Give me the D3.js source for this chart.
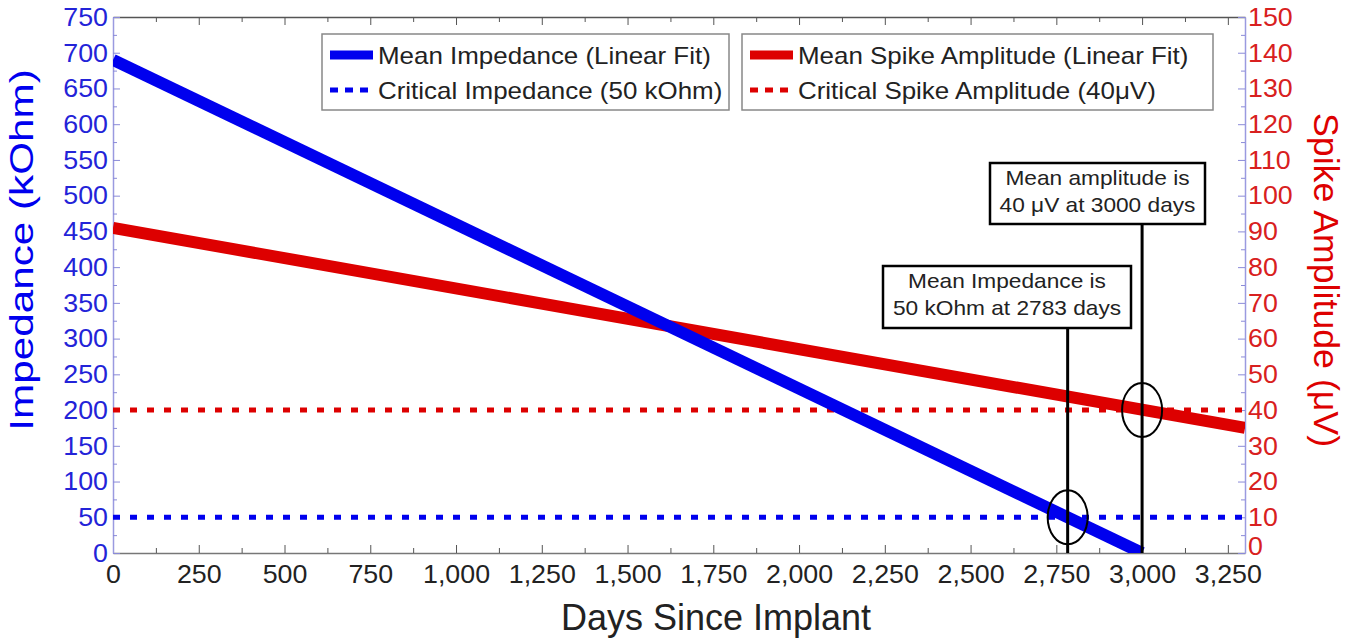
<!DOCTYPE html>
<html>
<head>
<meta charset="utf-8">
<script src="https://cdn.jsdelivr.net/npm/d3@7"></script>
<style>
  body { margin: 0; background: #fff; }
  svg { font-family: "Liberation Sans", Arial, Helvetica, sans-serif; }
</style>
</head>
<body>
<svg id="chart" width="1363" height="644"></svg>
<script>
// fitted lines
const impDays = [0, 3000];
const impValues = [690, 0];
const ampDays = [0, 3300];
const ampValues = [91, 35];
const criticalImpedance = 50;
const criticalAmplitude = 40;

const xTicks = [0, 250, 500, 750, 1000, 1250, 1500, 1750, 2000, 2250, 2500, 2750, 3000, 3250];
const leftTicks = [0, 50, 100, 150, 200, 250, 300, 350, 400, 450, 500, 550, 600, 650, 700, 750];
const rightTicks = [0, 10, 20, 30, 40, 50, 60, 70, 80, 90, 100, 110, 120, 130, 140, 150];

const notes = [
  { day: 2783, target: "imp", value: 50, lines: ["Mean Impedance is", "50 kOhm at 2783 days"] },
  { day: 3000, target: "amp", value: 40, lines: ["Mean amplitude is", "40 μV at 3000 days"] },
];

const svg = d3.select("#chart"),
  width = +svg.attr("width"),
  height = +svg.attr("height");
const margin = { top: 17, right: 118, bottom: 91, left: 113 };

const x = d3.scaleLinear().domain([0, 3300]).range([margin.left, width - margin.right]);
const yL = d3.scaleLinear().domain([0, 750]).range([height - margin.bottom, margin.top]);
const yR = d3.scaleLinear().domain([0, 150]).range([height - margin.bottom, margin.top]);

const BLUE = "#0000ee", RED = "#dd0000";
const x0 = margin.left, x1 = width - margin.right,
  yb = height - margin.bottom, yt = margin.top;

// the original font runs a bit wider than Liberation Sans
function stretch(sel, k) {
  sel.each(function () {
    const n = this.getComputedTextLength();
    d3.select(this).attr("textLength", n * k).attr("lengthAdjust", "spacingAndGlyphs");
  });
}

svg.append("clipPath").attr("id", "clip")
  .append("rect").attr("x", x0).attr("y", yt).attr("width", x1 - x0).attr("height", yb - yt);

// ---- axes ----
const fmt = d3.format(",");
const minorX = xTicks.map(d => d + 125).filter(d => d < 3300);

const bottomAxis = svg.append("g").attr("transform", `translate(0,${yb})`)
  .call(d3.axisBottom(x).tickValues(xTicks).tickFormat(fmt).tickSize(-8).tickSizeOuter(0).tickPadding(12));
bottomAxis.select(".domain").attr("stroke", "#777").attr("stroke-width", 1.5);
bottomAxis.selectAll(".tick line").attr("stroke", "#555");
bottomAxis.selectAll("text").attr("font-size", 26).attr("fill", "#222").call(stretch, 1.03);

const bottomMinor = svg.append("g").attr("transform", `translate(0,${yb})`)
  .call(d3.axisBottom(x).tickValues(minorX).tickFormat("").tickSize(-5).tickSizeOuter(0));
bottomMinor.select(".domain").remove();
bottomMinor.selectAll(".tick line").attr("stroke", "#555");

const topAxis = svg.append("g").attr("transform", `translate(0,${yt})`)
  .call(d3.axisTop(x).tickValues(xTicks).tickFormat("").tickSize(-8).tickSizeOuter(0));
topAxis.select(".domain").attr("stroke", "#555").attr("stroke-width", 1.5);
topAxis.selectAll(".tick line").attr("stroke", "#555");
const topMinor = svg.append("g").attr("transform", `translate(0,${yt})`)
  .call(d3.axisTop(x).tickValues(minorX).tickFormat("").tickSize(-5).tickSizeOuter(0));
topMinor.select(".domain").remove();
topMinor.selectAll(".tick line").attr("stroke", "#555");

const leftAxis = svg.append("g").attr("transform", `translate(${x0},0)`)
  .call(d3.axisLeft(yL).tickValues(leftTicks).tickSize(-7).tickSizeOuter(0).tickPadding(5));
leftAxis.select(".domain").attr("stroke", "#9a9ae0").attr("stroke-width", 1.5);
leftAxis.selectAll(".tick line").attr("stroke", "#8a8ad8");
leftAxis.selectAll("text").attr("font-size", 26).attr("fill", "#2323d8").call(stretch, 1.03);
const leftMinor = svg.append("g").attr("transform", `translate(${x0},0)`)
  .call(d3.axisLeft(yL).tickValues(leftTicks.slice(0, -1).map(d => d + 25)).tickFormat("").tickSize(-4).tickSizeOuter(0));
leftMinor.select(".domain").remove();
leftMinor.selectAll(".tick line").attr("stroke", "#8a8ad8");

const rightAxis = svg.append("g").attr("transform", `translate(${x1},0)`)
  .call(d3.axisRight(yR).tickValues(rightTicks).tickSize(-7).tickSizeOuter(0).tickPadding(3));
rightAxis.select(".domain").attr("stroke", "#9a9ae0").attr("stroke-width", 1.5);
rightAxis.selectAll(".tick line").attr("stroke", "#8a8ad8");
rightAxis.selectAll("text").attr("font-size", 26).attr("fill", "#d82020").call(stretch, 1.03);
// lift the bottom label clear of the x-axis labels
rightAxis.selectAll(".tick").filter(d => d === 0).select("text").attr("y", -7);
const rightMinor = svg.append("g").attr("transform", `translate(${x1},0)`)
  .call(d3.axisRight(yR).tickValues(rightTicks.slice(0, -1).map(d => d + 5)).tickFormat("").tickSize(-4).tickSizeOuter(0));
rightMinor.select(".domain").remove();
rightMinor.selectAll(".tick line").attr("stroke", "#8a8ad8");

// axis titles
svg.append("text").attr("x", 716).attr("y", 630)
  .attr("text-anchor", "middle").attr("font-size", 36).attr("fill", "#222")
  .text("Days Since Implant");
svg.append("text").attr("transform", "translate(33,250) rotate(-90)")
  .attr("text-anchor", "middle").attr("font-size", 33).attr("fill", BLUE)
  .text("Impedance (kOhm)").call(stretch, 1.28);
svg.append("text").attr("transform", "translate(1314,280) rotate(90)")
  .attr("text-anchor", "middle").attr("font-size", 35).attr("fill", RED)
  .text("Spike Amplitude (μV)").call(stretch, 1.02);

// ---- data lines ----
const plot = svg.append("g").attr("clip-path", "url(#clip)");

plot.append("line")
  .attr("x1", x0).attr("x2", x1)
  .attr("y1", yL(criticalImpedance)).attr("y2", yL(criticalImpedance))
  .attr("stroke", BLUE).attr("stroke-width", 5).attr("stroke-dasharray", "7,10");
plot.append("line")
  .attr("x1", x0).attr("x2", x1)
  .attr("y1", yR(criticalAmplitude)).attr("y2", yR(criticalAmplitude))
  .attr("stroke", RED).attr("stroke-width", 5).attr("stroke-dasharray", "7,10");

const impLine = d3.line().x((d, i) => x(impDays[i])).y(d => yL(d));
const ampLine = d3.line().x((d, i) => x(ampDays[i])).y(d => yR(d));

plot.append("path").attr("d", ampLine(ampValues))
  .attr("fill", "none").attr("stroke", RED).attr("stroke-width", 12);
plot.append("path").attr("d", impLine(impValues))
  .attr("fill", "none").attr("stroke", BLUE).attr("stroke-width", 12);

// ---- annotations ----
const boxes = [
  { x: 883, y: 266, w: 248, h: 62 },
  { x: 990, y: 163, w: 215, h: 61 },
];
notes.forEach((n, i) => {
  const b = boxes[i];
  const cx = x(n.day);
  const cy = n.target === "imp" ? yL(n.value) : yR(n.value);
  svg.append("line").attr("x1", cx).attr("x2", cx).attr("y1", b.y + b.h).attr("y2", yb)
    .attr("stroke", "#000").attr("stroke-width", 3);
  svg.append("ellipse").attr("cx", cx).attr("cy", cy).attr("rx", 20).attr("ry", 27)
    .attr("fill", "none").attr("stroke", "#000").attr("stroke-width", 2);
  svg.append("rect").attr("x", b.x).attr("y", b.y).attr("width", b.w).attr("height", b.h)
    .attr("fill", "#fff").attr("stroke", "#000").attr("stroke-width", 2.5);
  n.lines.forEach((t, j) => {
    svg.append("text").attr("x", b.x + b.w / 2).attr("y", b.y + 22 + j * 27)
      .attr("text-anchor", "middle").attr("font-size", 21).attr("fill", "#222").text(t)
      .call(stretch, 1.08);
  });
});

// ---- legends ----
const legends = [
  { x: 322, w: 407, items: [
    { label: "Mean Impedance (Linear Fit)", color: BLUE, dash: null },
    { label: "Critical Impedance (50 kOhm)", color: BLUE, dash: "8,7" } ] },
  { x: 742, w: 471, items: [
    { label: "Mean Spike Amplitude (Linear Fit)", color: RED, dash: null },
    { label: "Critical Spike Amplitude (40μV)", color: RED, dash: "8,7" } ] },
];
legends.forEach(L => {
  const g = svg.append("g");
  g.append("rect").attr("x", L.x).attr("y", 34).attr("width", L.w).attr("height", 76)
    .attr("fill", "#fff").attr("stroke", "#888").attr("stroke-width", 1.5);
  L.items.forEach((it, j) => {
    const yy = 55 + j * 35;
    g.append("line").attr("x1", L.x + 8).attr("x2", L.x + 51).attr("y1", yy).attr("y2", yy)
      .attr("stroke", it.color).attr("stroke-width", it.dash ? 5 : 9)
      .attr("stroke-dasharray", it.dash);
    g.append("text").attr("x", L.x + 56).attr("y", yy + 9)
      .attr("font-size", 24).attr("fill", "#222").text(it.label)
      .call(stretch, 1.08);
  });
});
</script>
</body>
</html>
